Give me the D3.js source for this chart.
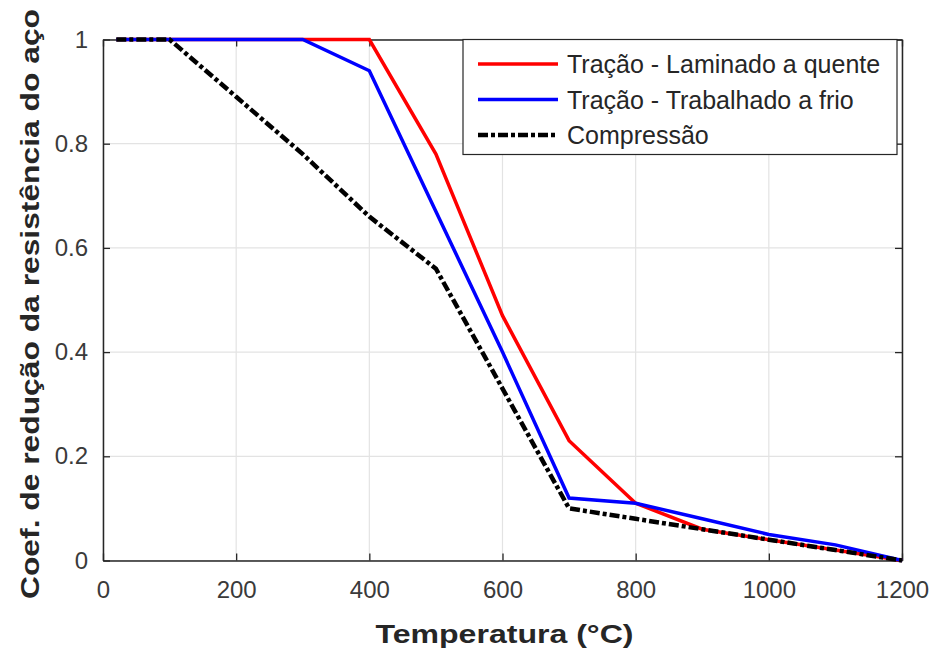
<!DOCTYPE html>
<html><head><meta charset="utf-8">
<script src="https://cdn.jsdelivr.net/npm/d3@7"></script>
<style>body{margin:0;background:#fff}svg{display:block}text{font-family:"Liberation Sans",Arial,sans-serif}</style>
</head><body><svg id="c" width="935" height="652"></svg>
<script>
const temps = [20,100,200,300,400,500,600,700,800,900,1000,1100,1200];
const quente = [1,1,1,1,1,0.78,0.47,0.23,0.11,0.06,0.04,0.02,0];
const frio = [1,1,1,1,0.94,0.67,0.40,0.12,0.11,0.08,0.05,0.03,0];
const compressao = [1,1,0.89,0.78,0.66,0.56,0.33,0.10,0.08,0.06,0.04,0.02,0];
const xTicks = [0,200,400,600,800,1000,1200];
const yTicks = [0,0.2,0.4,0.6,0.8,1];
const seriesNames = ["Tração - Laminado a quente","Tração - Trabalhado a frio","Compressão"];
const seriesColors = ["#ff0000","#0000ff","#000000"];
const seriesDash = [null,null,"10,3,4,3"];
const seriesWidth = [3.5,3.5,4.5];
const seriesData = [quente,frio,compressao];

const svg = d3.select("#c");
const L=103,R=902,T=39.5,B=560.5;
const x = d3.scaleLinear().domain([0,1200]).range([L,R]);
const y = d3.scaleLinear().domain([0,1]).range([B,T]);

// grid
const g = svg.append("g");
g.selectAll(".gx").data(xTicks).enter().append("line")
 .attr("x1",d=>x(d)).attr("x2",d=>x(d)).attr("y1",T).attr("y2",B)
 .attr("stroke","#e3e3e3").attr("stroke-width",1.2);
g.selectAll(".gy").data(yTicks).enter().append("line")
 .attr("y1",d=>y(d)).attr("y2",d=>y(d)).attr("x1",L).attr("x2",R)
 .attr("stroke","#e3e3e3").attr("stroke-width",1.2);

// axes
const ax = svg.append("g").attr("transform",`translate(0,${B})`)
 .call(d3.axisBottom(x).tickValues(xTicks).tickSizeInner(-7).tickSizeOuter(0).tickPadding(20).tickFormat(d3.format("d")));
const ay = svg.append("g").attr("transform",`translate(${L},0)`)
 .call(d3.axisLeft(y).tickValues(yTicks).tickSizeInner(-7).tickSizeOuter(0).tickPadding(15).tickFormat(d=>d===0||d===1?String(d):d3.format(".1f")(d)));
const at = svg.append("g").attr("transform",`translate(0,${T})`)
 .call(d3.axisTop(x).tickValues(xTicks).tickSizeInner(-7).tickSizeOuter(0).tickFormat(""));
const ar = svg.append("g").attr("transform",`translate(${R},0)`)
 .call(d3.axisRight(y).tickValues(yTicks).tickSizeInner(-7).tickSizeOuter(0).tickFormat(""));
[ax,ay,at,ar].forEach(a=>{
  a.select(".domain").attr("stroke","#262626").attr("stroke-width",1.5);
  a.selectAll(".tick line").attr("stroke","#262626").attr("stroke-width",1.3);
  a.selectAll(".tick text").attr("fill","#3a3a3a").attr("font-size",24).attr("font-family","Liberation Sans, Arial, sans-serif");
});
ax.selectAll(".tick text").attr("dy","0.71em");

// lines
const line = d3.line().x((d,i)=>x(temps[i])).y(d=>y(d));
seriesData.forEach((s,k)=>{
  svg.append("path").datum(s).attr("d",line).attr("fill","none")
   .attr("stroke",seriesColors[k]).attr("stroke-width",seriesWidth[k])
   .attr("stroke-dasharray",seriesDash[k]);
});

// axis titles
svg.append("text").attr("x",(L+R)/2+2).attr("y",643).attr("text-anchor","middle")
 .attr("font-weight","bold").attr("font-size",26).attr("fill","#262626")
 .attr("textLength",258).attr("lengthAdjust","spacingAndGlyphs").text("Temperatura (°C)");
svg.append("text").attr("transform","translate(39,304) rotate(-90)").attr("text-anchor","middle")
 .attr("font-weight","bold").attr("font-size",26).attr("fill","#262626")
 .attr("textLength",590).attr("lengthAdjust","spacingAndGlyphs").text("Coef. de redução da resistência do aço");

// legend
const lg = svg.append("g");
lg.append("rect").attr("x",463).attr("y",39.5).attr("width",434).attr("height",115)
 .attr("fill","#fff").attr("stroke","#262626").attr("stroke-width",1.2);
seriesNames.forEach((n,k)=>{
  const yy = 64 + k*35.5;
  lg.append("line").attr("x1",478).attr("x2",558).attr("y1",yy).attr("y2",yy)
   .attr("stroke",seriesColors[k]).attr("stroke-width",seriesWidth[k]).attr("stroke-dasharray",seriesDash[k]);
  lg.append("text").attr("x",567).attr("y",yy+9).attr("font-size",25).attr("fill","#262626").text(n);
});
</script></body></html>
